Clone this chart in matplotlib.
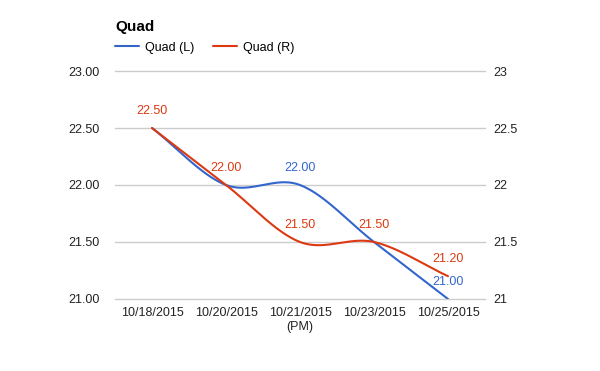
import matplotlib
matplotlib.use('Agg')
import matplotlib.pyplot as plt
import numpy as np

plt.rcParams['font.family'] = ['Liberation Sans', 'DejaVu Sans']

categories = ['10/18/2015', '10/20/2015', '10/21/2015\n(PM)', '10/23/2015', '10/25/2015']
quad_l = [22.5, 22.0, 22.0, 21.5, 21.0]
quad_r = [22.5, 22.0, 21.5, 21.5, 21.2]
# which value labels google left visible (others hidden by overlap)
show_l = [False, False, True, False, True]
show_r = [True, True, True, True, True]
left_ticks = [21.0, 21.5, 22.0, 22.5, 23.0]

BLUE = '#3366cc'
RED = '#dc3912'


def smooth(x, y, n=40):
    # catmull-rom style hermite curve, like curveType 'function'
    x = np.asarray(x, float)
    y = np.asarray(y, float)
    m = np.zeros_like(y)
    m[1:-1] = (y[2:] - y[:-2]) / (x[2:] - x[:-2])
    m[0] = (y[1] - y[0]) / (x[1] - x[0])
    m[-1] = (y[-1] - y[-2]) / (x[-1] - x[-2])
    xs, ys = [], []
    for i in range(len(x) - 1):
        h = x[i + 1] - x[i]
        t = np.linspace(0, 1, n)
        h00 = 2 * t**3 - 3 * t**2 + 1
        h10 = t**3 - 2 * t**2 + t
        h01 = -2 * t**3 + 3 * t**2
        h11 = t**3 - t**2
        xs.append(x[i] + t * h)
        ys.append(h00 * y[i] + h10 * h * m[i] + h01 * y[i + 1] + h11 * h * m[i + 1])
    return np.concatenate(xs), np.concatenate(ys)


fig = plt.figure(figsize=(6, 3.71), dpi=100)
ax = fig.add_axes([0.1917, 0.1941, 0.6166, 0.6145])

xpos = np.arange(len(categories))
for vals, col, lab, show in [(quad_l, BLUE, 'Quad (L)', show_l), (quad_r, RED, 'Quad (R)', show_r)]:
    sx, sy = smooth(xpos, vals)
    ax.plot(sx, sy, color=col, lw=1.5, label=lab, solid_capstyle='round')
    for xi, v, s in zip(xpos, vals, show):
        if s:
            ax.annotate('%.2f' % v, (xi, v), xytext=(0, 10), textcoords='offset points',
                        ha='center', va='baseline', color=col, fontsize=9)

ax.set_xlim(-0.5, len(categories) - 0.5)
ax.set_ylim(21, 23)
ax.set_yticks(left_ticks)
ax.set_yticklabels(['%.2f' % v for v in left_ticks])
ax.set_xticks(xpos)
ax.set_xticklabels(categories)
ax.grid(axis='y', color='#cccccc', lw=1)
for gl in ax.get_ygridlines():
    gl.set_clip_on(False)
ax.set_axisbelow(True)
for s in ax.spines.values():
    s.set_visible(False)
ax.tick_params(length=0, labelsize=9, colors='#222222')
ax.tick_params(axis='y', pad=11)
ax.tick_params(axis='x', pad=6)

ax2 = ax.twinx()
ax2.set_ylim(21, 23)
ax2.set_yticks(left_ticks)
ax2.set_yticklabels(['%g' % v for v in left_ticks])
for s in ax2.spines.values():
    s.set_visible(False)
ax2.tick_params(length=0, labelsize=9, colors='#222222', pad=6)

fig.text(115 / 600, 1 - 31 / 371, 'Quad', fontsize=11, fontweight='bold', va='baseline', ha='left')
ax.legend(loc='center left', bbox_to_anchor=(115 / 600, 1 - 47.5 / 371), bbox_transform=fig.transFigure,
          ncol=2, frameon=False, fontsize=9, handlelength=1.9, handletextpad=0.5,
          columnspacing=1.5, borderaxespad=0, borderpad=0)

fig.savefig('out.png', dpi=100)
